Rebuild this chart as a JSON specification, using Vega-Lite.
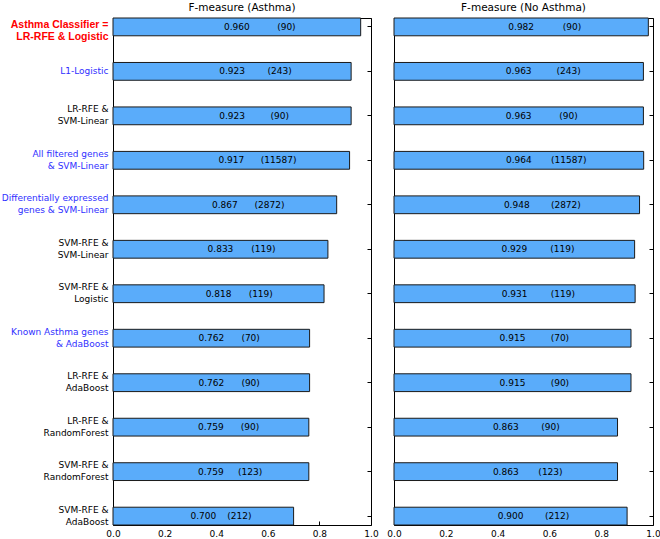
{
  "$schema": "https://vega.github.io/schema/vega-lite/v6.json",
  "datasets": {
    "rows": [
      {"method": "Asthma Classifier =|LR-RFE & Logistic", "asthma": 0.960, "no_asthma": 0.982, "n": 90},
      {"method": "L1-Logistic", "asthma": 0.923, "no_asthma": 0.963, "n": 243},
      {"method": "LR-RFE &|SVM-Linear", "asthma": 0.923, "no_asthma": 0.963, "n": 90},
      {"method": "All filtered genes|& SVM-Linear", "asthma": 0.917, "no_asthma": 0.964, "n": 11587},
      {"method": "Differentially expressed|genes & SVM-Linear", "asthma": 0.867, "no_asthma": 0.948, "n": 2872},
      {"method": "SVM-RFE &|SVM-Linear", "asthma": 0.833, "no_asthma": 0.929, "n": 119},
      {"method": "SVM-RFE &|Logistic", "asthma": 0.818, "no_asthma": 0.931, "n": 119},
      {"method": "Known Asthma genes|& AdaBoost", "asthma": 0.762, "no_asthma": 0.915, "n": 70},
      {"method": "LR-RFE &|AdaBoost", "asthma": 0.762, "no_asthma": 0.915, "n": 90},
      {"method": "LR-RFE &|RandomForest", "asthma": 0.759, "no_asthma": 0.863, "n": 90},
      {"method": "SVM-RFE &|RandomForest", "asthma": 0.759, "no_asthma": 0.863, "n": 123},
      {"method": "SVM-RFE &|AdaBoost", "asthma": 0.700, "no_asthma": 0.900, "n": 212}
    ]
  },
  "data": {"name": "rows"},
  "padding": {"left": 0, "top": 2, "right": 2, "bottom": 0},
  "spacing": 7,
  "config": {
    "view": {"stroke": "#000000", "strokeWidth": 1},
    "font": "DejaVu Sans",
    "axis": {
      "domain": false,
      "grid": false,
      "tickColor": "#000000",
      "tickSize": -4,
      "labelFont": "DejaVu Sans",
      "labelFontSize": 9,
      "labelColor": "#000000",
      "labelPadding": 9,
      "minExtent": 0,
      "title": null
    },
    "axisY": {"minExtent": 0},
    "axisX": {"minExtent": 0, "labelPadding": 8}
  },
  "hconcat": [
    {
      "width": 258,
      "height": 507,
      "title": {"text": "F-measure (Asthma)", "font": "DejaVu Sans", "fontSize": 10.5, "fontWeight": "normal", "color": "#000000", "offset": 4},
      "layer": [
        {
          "mark": {"type": "bar", "color": "#5aacfa", "stroke": "#1a1a1a", "strokeWidth": 1},
          "encoding": {
            "y": {
              "field": "method", "type": "nominal", "sort": null,
              "scale": {"paddingInner": 0.6, "paddingOuter": 0},
              "axis": {
                "orient": "left",
                "labelExpr": "split(datum.label, '|')",
                "labelLineHeight": 12,
                "labelLimit": 200,
                "labelColor": {
                  "condition": [
                    {"test": "datum.value === 'Asthma Classifier =|LR-RFE & Logistic'", "value": "#ff0000"},
                    {"test": "indexof(['L1-Logistic','All filtered genes|& SVM-Linear','Differentially expressed|genes & SVM-Linear','Known Asthma genes|& AdaBoost'], datum.value) >= 0", "value": "#3030ff"}
                  ],
                  "value": "#000000"
                },
                "labelFont": {"condition": {"test": "datum.value === 'Asthma Classifier =|LR-RFE & Logistic'", "value": "Liberation Sans"}, "value": "DejaVu Sans"},
                "labelFontWeight": {"condition": {"test": "datum.value === 'Asthma Classifier =|LR-RFE & Logistic'", "value": "bold"}, "value": "normal"},
                "labelFontSize": {"condition": {"test": "datum.value === 'Asthma Classifier =|LR-RFE & Logistic'", "value": 10.5}, "value": 9},
                "labelOffset": {
                  "condition": [
                    {"test": "datum.value === 'Asthma Classifier =|LR-RFE & Logistic'", "value": -2},
                    {"test": "indexof(datum.value, '|') >= 0", "value": -6.5}
                  ],
                  "value": 0
                }
              }
            },
            "x": {
              "field": "asthma", "type": "quantitative",
              "scale": {"domain": [0, 1], "nice": false},
              "axis": {"orient": "bottom", "values": [0, 0.2, 0.4, 0.6, 0.8, 1.0], "format": ".1f", "labelFlush": false}
            }
          }
        },
        {
          "mark": {"type": "bar", "opacity": 0},
          "encoding": {
            "y": {"field": "method", "type": "nominal", "sort": null, "scale": {"paddingInner": 0.6, "paddingOuter": 0}, "axis": {"orient": "right", "labels": false, "minExtent": 0}},
            "x": {"field": "asthma", "type": "quantitative", "scale": {"domain": [0, 1], "nice": false}, "axis": {"orient": "top", "values": [0, 0.2, 0.4, 0.6, 0.8, 1.0], "labels": false, "minExtent": 0}}
          }
        },
        {
          "mark": {"type": "text", "font": "DejaVu Sans", "fontSize": 9, "color": "#000000"},
          "encoding": {
            "y": {"field": "method", "type": "nominal", "sort": null, "scale": {"paddingInner": 0.6, "paddingOuter": 0}, "axis": null},
            "x": {"field": "asthma", "type": "quantitative", "scale": {"domain": [0, 2], "nice": false, "zero": true}, "axis": null},
            "text": {"field": "asthma", "type": "quantitative", "format": ".3f"}
          }
        },
        {
          "mark": {"type": "text", "font": "DejaVu Sans", "fontSize": 9, "color": "#000000", "text": {"expr": "'(' + datum.n + ')'"}},
          "encoding": {
            "y": {"field": "method", "type": "nominal", "sort": null, "scale": {"paddingInner": 0.6, "paddingOuter": 0}, "axis": null},
            "x": {"field": "asthma", "type": "quantitative", "scale": {"domain": [0, 1.428571], "nice": false, "zero": true}, "axis": null}
          }
        }
      ],
      "resolve": {"scale": {"x": "independent"}, "axis": {"y": "independent"}}
    },
    {
      "width": 259,
      "height": 507,
      "title": {"text": "F-measure (No Asthma)", "font": "DejaVu Sans", "fontSize": 10.5, "fontWeight": "normal", "color": "#000000", "offset": 4},
      "layer": [
        {
          "mark": {"type": "bar", "color": "#5aacfa", "stroke": "#1a1a1a", "strokeWidth": 1},
          "encoding": {
            "y": {"field": "method", "type": "nominal", "sort": null, "scale": {"paddingInner": 0.6, "paddingOuter": 0}, "axis": {"orient": "left", "labels": false, "minExtent": 0}},
            "x": {
              "field": "no_asthma", "type": "quantitative",
              "scale": {"domain": [0, 1], "nice": false},
              "axis": {"orient": "bottom", "values": [0, 0.2, 0.4, 0.6, 0.8, 1.0], "format": ".1f", "labelFlush": false}
            }
          }
        },
        {
          "mark": {"type": "bar", "opacity": 0},
          "encoding": {
            "y": {"field": "method", "type": "nominal", "sort": null, "scale": {"paddingInner": 0.6, "paddingOuter": 0}, "axis": {"orient": "right", "labels": false, "minExtent": 0}},
            "x": {"field": "no_asthma", "type": "quantitative", "scale": {"domain": [0, 1], "nice": false}, "axis": {"orient": "top", "values": [0, 0.2, 0.4, 0.6, 0.8, 1.0], "labels": false, "minExtent": 0}}
          }
        },
        {
          "mark": {"type": "text", "font": "DejaVu Sans", "fontSize": 9, "color": "#000000"},
          "encoding": {
            "y": {"field": "method", "type": "nominal", "sort": null, "scale": {"paddingInner": 0.6, "paddingOuter": 0}, "axis": null},
            "x": {"field": "no_asthma", "type": "quantitative", "scale": {"domain": [0, 2], "nice": false, "zero": true}, "axis": null},
            "text": {"field": "no_asthma", "type": "quantitative", "format": ".3f"}
          }
        },
        {
          "mark": {"type": "text", "font": "DejaVu Sans", "fontSize": 9, "color": "#000000", "text": {"expr": "'(' + datum.n + ')'"}},
          "encoding": {
            "y": {"field": "method", "type": "nominal", "sort": null, "scale": {"paddingInner": 0.6, "paddingOuter": 0}, "axis": null},
            "x": {"field": "no_asthma", "type": "quantitative", "scale": {"domain": [0, 1.428571], "nice": false, "zero": true}, "axis": null}
          }
        }
      ],
      "resolve": {"scale": {"x": "independent"}, "axis": {"y": "independent"}}
    }
  ]
}
